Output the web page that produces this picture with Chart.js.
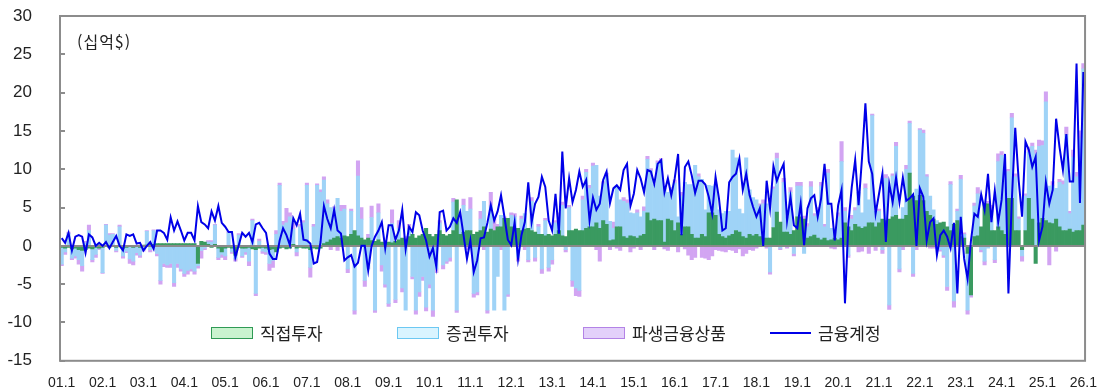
<!DOCTYPE html>
<html lang="ko">
<head>
<meta charset="utf-8">
<title>금융계정 추이</title>
<script src="https://cdn.jsdelivr.net/npm/chart.js@4.4.1/dist/chart.umd.min.js"></script>
<style>
  html, body { margin: 0; padding: 0; background: #fff; }
  #wrap { position: relative; width: 1103px; height: 391px; font-family: "Noto Sans CJK KR", "Liberation Sans", sans-serif; color: #222; }
  #wrap canvas { position: absolute; left: 0; top: 0; }
  #unit { position: absolute; left: 77px; top: 29px; font-size: 16px; letter-spacing: 1px; }
  .legend-item { position: absolute; top: 321px; display: flex; align-items: center; font-size: 17px; line-height: 24px; }
  .swatch { width: 40px; height: 10px; border: 1px solid; margin-right: 7px; }
  .swatch-line { width: 41px; height: 2px; background: #0000e8; margin-right: 7px; }
</style>
</head>
<body>
<div id="wrap">
  <canvas id="faChart" width="1103" height="391"></canvas>
  <div id="unit">(십억$)</div>
  <div class="legend-item" style="left:211px"><span class="swatch" style="background:#c9f3cf;border-color:#2f9a55"></span>직접투자</div>
  <div class="legend-item" style="left:397px"><span class="swatch" style="background:#d9f4ff;border-color:#6cc8f2"></span>증권투자</div>
  <div class="legend-item" style="left:583px"><span class="swatch" style="background:#e3d0fa;border-color:#b383e6"></span>파생금융상품</div>
  <div class="legend-item" style="left:770px"><span class="swatch-line"></span>금융계정</div>
</div>
<script>
// monthly categories, 01.1 .. 26.1
const labels = [];
for (let yr = 2001; yr <= 2026; yr++) {
  for (let m = 1; m <= 12; m++) {
    if (yr === 2026 && m > 1) break;
    labels.push(String(yr % 100).padStart(2, '0') + '.' + m);
  }
}

// 직접투자 (one row per year)
const directInv = [
  -0.2,-0.3,-0.2,-0.4,-0.3,-0.5,-0.6,-0.5,-0.3,-0.4,-0.2,-0.3,
  -0.2,-0.1,-0.2,-0.1,-0.2,-0.1,-0.3,-0.2,-0.1,-0.2,-0.1,-0.2,
  0.1,0.1,0.2,0.2,0.3,0.3,0.3,0.3,0.3,0.3,0.3,0.3,
  0.3,0.3,0.3,0.3,-2.3,0.6,0.5,0.2,-0.2,0.2,-0.3,-0.8,
  -0.3,-0.2,-0.3,-1.2,-0.2,-0.3,-0.3,-0.2,-0.4,-0.5,-0.3,-0.2,
  -0.3,-0.5,-0.4,-0.8,-0.3,-0.2,-0.4,-0.3,0.2,-0.3,-0.2,-0.3,
  -0.3,-0.5,-0.3,-0.4,-0.3,0.3,0.5,0.8,1.0,1.2,1.0,1.3,
  1.2,1.5,2.0,1.3,1.0,0.8,1.0,0.7,0.6,0.8,0.5,0.4,
  0.5,0.4,0.6,0.8,1.0,0.9,1.2,1.5,1.0,1.3,1.5,2.3,
  1.5,1.2,1.5,2.0,1.5,1.3,1.5,2.0,6.0,1.5,1.8,2.0,
  2.0,1.5,1.8,2.0,2.5,1.8,2.2,2.0,2.5,2.5,3.6,3.6,
  2.5,2.0,2.3,2.0,2.2,2.3,2.0,1.8,1.5,1.5,1.3,1.5,
  1.3,1.5,2.0,1.3,1.2,2.0,2.0,2.2,2.0,2.0,2.3,2.5,
  2.5,3.0,2.3,3.3,2.8,0.7,0.8,2.5,2.5,1.2,1.0,1.3,
  1.2,1.0,1.3,1.5,4.3,3.3,3.5,3.3,3.3,0.5,3.5,3.3,
  2.0,3.0,1.5,2.5,2.5,1.5,1.0,1.0,1.5,1.2,4.3,4.3,
  4.0,1.5,1.2,1.0,1.3,1.5,2.0,1.8,1.2,1.0,1.5,1.3,
  1.5,1.2,1.0,1.0,1.0,2.4,4.4,3.1,1.8,1.8,1.5,2.0,
  3.8,3.8,3.5,1.0,1.2,1.4,1.0,0.8,1.0,0.7,0.8,1.0,
  0.8,1.0,3.0,2.5,2.0,2.8,2.5,2.3,2.5,3.0,3.0,2.5,
  3.0,3.5,3.3,3.5,3.8,4.0,3.5,3.5,4.0,9.5,6.5,5.9,
  6.6,5.9,4.5,4.0,3.5,2.8,3.0,3.1,2.5,2.0,2.8,3.3,
  1.2,1.0,-1.0,-6.4,1.2,1.3,2.5,5.5,5.5,2.0,2.0,2.5,
  2.0,1.5,6.2,6.2,2.0,2.0,-0.5,2.0,6.2,3.5,-2.3,3.0,
  3.6,3.3,3.0,2.9,3.5,2.5,2.0,2.0,2.2,1.8,2.0,2.0,
  2.7
];

// 증권투자
const portfolioInv = [
  -2.2,-0.5,1.6,-1.2,-1.0,-1.3,-2.0,0.4,2.0,-1.4,-0.9,0.3,
  -3.3,2.7,1.4,1.5,-0.4,2.5,-1.0,-0.5,-1.6,-1.8,-0.8,-1.0,
  -0.5,1.8,-0.5,1.8,-1.0,-4.5,-2.3,-2.5,-2.3,-4.8,-2.3,-3.0,
  -3.6,-3.2,-3.0,-3.3,-0.3,-0.6,-0.3,0.3,0.5,2.5,-1.2,-0.3,
  -1.0,1.7,-0.5,-0.5,1.4,-1.0,-0.5,-1.8,3.3,-5.7,0.6,-0.5,
  -0.5,-1.8,-1.5,1.5,7.9,2.7,3.0,3.8,2.0,-0.5,2.5,3.0,
  7.9,-2.3,2.5,7.9,7.0,8.3,5.0,4.2,3.8,5.0,3.5,3.5,
  -3.0,3.0,-8.4,7.8,2.5,-4.5,-3.0,3.0,-8.4,3.5,-2.5,-5.0,
  -7.5,2.5,-7.0,1.5,-5.5,-8.4,1.0,-4.0,-8.4,-6.0,-4.0,-8.0,
  -5.0,-8.4,-3.0,1.0,-2.5,-2.0,-1.5,3.7,-8.4,2.0,3.5,2.5,
  2.8,-6.2,-6.0,1.5,3.3,-8.4,3.0,-8.4,-4.0,1.5,-8.4,-6.3,
  1.5,1.8,-1.5,1.5,2.0,-1.8,3.8,-1.5,1.0,-3.0,2.0,-2.8,
  -1.8,1.5,1.8,4.0,-0.5,3.0,-4.5,-5.5,-5.8,4.0,7.3,5.0,
  7.9,7.5,4.2,4.8,6.3,2.5,1.5,5.3,3.5,4.6,4.6,3.0,
  3.0,3.3,2.5,3.0,7.0,6.5,4.5,7.5,7.8,7.0,3.5,4.0,
  6.2,0.8,5.0,5.8,5.5,6.5,9.5,8.0,7.2,3.5,3.6,3.5,
  4.0,3.2,3.0,3.5,3.2,11.0,9.5,3.0,3.0,10.5,5.8,5.0,
  4.5,4.0,4.5,4.5,-3.4,5.0,7.0,-0.3,6.5,2.0,5.5,-1.0,
  4.0,4.0,-1.0,1.5,6.5,2.5,3.5,7.0,1.5,8.8,1.5,0.8,
  3.0,10.0,1.5,-1.2,1.5,1.8,4.5,2.0,5.0,3.0,14.0,2.0,
  1.5,-0.5,5.5,-7.7,5.3,9.0,-3.0,1.5,6.0,6.5,-3.6,1.5,
  8.5,8.8,4.5,2.5,1.2,0.5,-0.5,-1.2,-5.3,6.0,-7.2,1.2,
  7.5,0.5,-7.4,0.0,4.0,5.5,-0.5,-2.0,-0.3,2.5,-1.8,8.5,
  9.8,8.0,3.5,10.5,7.0,1.5,-0.8,4.5,6.0,9.5,12.0,10.0,
  9.5,15.5,4.8,5.0,4.0,5.8,6.0,12.5,2.0,9.8,7.0,12.0,
  20.4
];

// 파생금융상품
const derivatives = [
  -0.2,-0.3,0.2,-0.2,-0.3,-0.6,-0.7,0.2,0.7,-0.3,-0.4,-0.2,
  -0.1,0.1,0.2,0.1,-0.2,0.2,-0.3,-0.2,-0.6,-0.5,-0.3,-0.3,
  -0.2,0.1,-0.3,0.1,-0.3,-0.5,-0.4,-0.3,-0.5,-0.5,-0.5,-0.3,
  -0.4,-0.5,-0.3,-0.4,-0.3,-1.0,-0.2,0.2,0.2,0.1,-0.3,-0.4,
  -0.5,0.2,-0.2,-0.3,0.2,-0.2,-0.3,-0.6,0.2,-0.3,0.3,-0.3,
  -0.3,-0.9,-0.9,0.5,0.3,0.5,1.9,0.5,0.7,-0.5,0.3,0.3,
  0.3,-1.3,0.3,0.2,0.3,0.4,0.5,-0.5,0.3,-0.6,0.8,0.5,
  -0.5,0.3,-0.5,2.0,1.5,-0.8,0.5,1.5,-0.3,1.2,-0.8,-0.4,
  -0.4,1.8,-0.4,1.0,-0.5,0.3,0.6,-0.3,-0.5,-0.6,-0.5,-0.5,
  -0.5,-0.8,-0.5,0.3,-0.5,-0.3,-0.5,0.5,-0.3,0.4,0.8,-0.5,
  1.5,-0.5,-0.4,1.0,-0.5,-0.4,1.8,1.5,0.3,-0.5,0.2,-0.3,
  0.3,0.4,-0.5,0.4,-0.5,-0.3,0.5,-0.5,0.3,-0.6,0.3,-0.5,
  -0.6,0.3,0.5,0.4,-0.3,0.3,-0.8,-1.0,-0.8,0.5,0.4,0.4,
  0.4,-0.5,-2.0,0.3,0.4,-0.5,0.8,-0.3,-0.6,0.5,0.4,-0.8,
  -0.3,0.4,-0.5,0.6,0.4,0.3,-0.5,0.3,0.3,-0.4,-0.6,0.3,
  0.4,-0.8,0.5,-0.4,-1.2,-1.8,-1.5,0.4,-1.5,-1.6,-1.8,-1.3,
  -0.5,-0.6,-0.7,-0.8,-0.5,-0.6,-0.9,-0.4,-1.3,-1.0,-0.5,-0.6,
  -0.3,0.3,0.5,-0.3,-0.3,0.3,0.7,-0.2,0.5,-0.3,0.6,-0.3,
  0.5,0.5,0.4,0.4,0.7,0.3,0.5,0.5,0.3,0.5,-0.3,-0.4,
  0.5,2.6,0.5,-0.3,0.5,0.4,-0.8,-0.7,0.6,-1.0,0.2,-0.6,
  0.3,-0.5,0.5,-0.6,0.3,0.5,-0.4,-0.5,0.5,0.3,-0.4,-0.5,
  0.2,0.4,0.3,-0.3,-0.3,-0.3,-0.2,-0.3,-0.5,0.4,-0.8,0.3,
  0.5,0.2,-0.5,-0.3,0.4,0.8,-0.3,-0.5,0.3,0.8,-0.4,1.0,
  0.5,0.4,0.3,0.6,0.4,0.3,-0.7,0.3,0.7,0.4,0.5,0.8,
  0.6,1.3,-2.5,0.5,-0.7,0.4,0.5,1.0,0.3,0.9,0.6,1.0,
  0.7
];

// 금융계정
const financialAcct = [
  1.0,0.4,1.7,-0.6,1.2,1.4,1.2,-0.9,1.5,1.1,0.0,0.4,
  0.0,0.5,-0.3,0.5,1.3,0.0,-0.6,1.5,1.3,1.5,0.3,0.4,
  -0.6,0.0,0.5,-0.4,2.0,2.0,1.7,0.8,3.7,2.0,3.2,2.0,
  0.7,1.7,1.7,0.7,5.2,3.1,2.8,2.3,4.5,3.3,5.2,3.0,
  2.5,1.8,1.8,-1.5,0.1,1.7,1.2,1.7,0.5,2.8,3.0,2.3,
  1.7,-1.0,-1.7,-1.7,0.7,2.3,1.4,0.1,3.6,2.7,4.2,0.8,
  0.7,0.3,-2.3,-2.1,0.5,5.2,3.5,2.3,4.7,2.0,1.6,-1.9,
  -1.5,-1.2,-2.7,-2.2,0.0,0.0,-3.2,0.0,1.2,2.0,3.1,-0.3,
  2.7,2.7,0.8,2.0,4.7,-0.4,2.5,1.8,4.4,4.0,2.0,0.7,
  -1.4,-0.3,-2.7,4.4,4.6,2.0,2.5,3.6,3.0,4.4,1.4,-1.7,
  0.7,-3.4,-1.9,1.0,1.1,3.0,5.3,3.3,4.5,6.6,3.8,0.8,
  0.1,3.1,-1.7,1.4,3.1,8.3,3.1,5.5,6.4,9.0,7.7,3.3,
  2.0,6.8,1.6,12.3,4.9,8.8,5.7,7.3,9.7,7.7,8.6,3.3,
  6.3,4.7,5.5,8.6,9.7,5.6,7.5,7.9,7.3,9.9,10.7,5.2,
  6.8,9.9,8.8,7.0,9.9,9.7,8.1,10.7,11.2,7.0,8.8,6.6,
  8.8,12.0,1.4,10.3,11.0,9.2,6.9,8.5,8.5,8.0,6.4,4.2,
  9.0,6.2,2.0,2.3,8.3,9.0,9.4,11.4,7.3,9.4,6.6,5.1,
  3.8,4.9,0.0,8.5,4.9,10.4,8.5,9.7,10.7,3.3,6.4,2.7,
  2.3,5.5,0.1,4.9,6.2,6.6,3.8,6.2,10.7,5.5,5.5,0.7,
  5.3,7.3,-7.5,2.9,7.7,11.2,5.3,11.4,18.6,11.0,9.4,4.2,
  6.8,9.4,0.5,8.1,5.7,8.9,5.7,8.9,5.9,6.2,6.7,0.0,
  7.5,6.4,0.7,3.1,3.6,-1.2,1.4,2.0,1.2,-0.3,3.0,-6.2,
  3.8,-1.7,-4.3,0.7,4.2,3.8,6.7,4.7,9.4,3.1,7.2,3.1,
  6.0,12.0,-6.2,6.0,15.4,8.6,3.8,13.6,12.5,10.3,11.6,0.7,
  2.5,8.3,5.5,7.3,16.6,12.9,9.9,14.6,8.4,8.4,23.8,5.6,
  22.7
];

const yTicks = [-15, -10, -5, 0, 5, 10, 15, 20, 25, 30];

// zero line under the 금융계정 line, plot frame and inward y tick marks
const framePlugin = {
  id: 'frame',
  beforeDatasetDraw(chart, args) {
    if (args.meta.type !== 'line') return;
    const { ctx, chartArea: a, scales: { y } } = chart;
    const y0 = Math.round(y.getPixelForValue(0));
    ctx.save();
    ctx.strokeStyle = '#8a8a8a';
    ctx.lineWidth = 2;
    ctx.beginPath();
    ctx.moveTo(a.left, y0);
    ctx.lineTo(a.right, y0);
    ctx.stroke();
    ctx.restore();
  },
  afterDraw(chart) {
    const { ctx, chartArea: a, scales: { y } } = chart;
    ctx.save();
    ctx.strokeStyle = '#8c8c8c';
    ctx.lineWidth = 2;
    ctx.strokeRect(a.left, a.top, a.right - a.left, a.bottom - a.top);
    ctx.beginPath();
    yTicks.forEach(v => {
      const py = Math.round(y.getPixelForValue(v));
      ctx.moveTo(a.left, py);
      ctx.lineTo(a.left + 5, py);
    });
    ctx.stroke();
    ctx.restore();
  }
};

const barCommon = {
  type: 'bar',
  stack: 'bars',
  order: 1,
  barPercentage: 1,
  categoryPercentage: 1,
  borderWidth: 0
};

new Chart(document.getElementById('faChart'), {
  data: {
    labels: labels,
    datasets: [
      {
        type: 'line',
        label: '금융계정',
        data: financialAcct,
        stack: 'line',
        order: 0,
        borderColor: '#0000e8',
        borderWidth: 2,
        pointRadius: 0,
        tension: 0,
        fill: false
      },
      Object.assign({ label: '직접투자', data: directInv, backgroundColor: '#3a9a60' }, barCommon),
      Object.assign({ label: '증권투자', data: portfolioInv, backgroundColor: '#9fd3f7' }, barCommon),
      Object.assign({ label: '파생금융상품', data: derivatives, backgroundColor: '#d2a4f2' }, barCommon)
    ]
  },
  options: {
    responsive: false,
    animation: false,
    events: [],
    layout: { padding: { left: 2, right: 16, top: 0, bottom: 0 } },
    plugins: {
      legend: { display: false },
      tooltip: { enabled: false }
    },
    scales: {
      x: {
        stacked: true,
        offset: true,
        grid: { display: false },
        border: { display: false },
        ticks: {
          autoSkip: false,
          maxRotation: 0,
          minRotation: 0,
          padding: 6,
          color: '#222',
          font: { family: '"Liberation Sans", Arial, sans-serif', size: 14 },
          callback: function(val, idx) {
            const lab = labels[idx];
            return lab.endsWith('.1') ? lab : '';
          }
        },
        afterFit: s => { s.height = 27; }
      },
      y: {
        stacked: true,
        min: -15,
        max: 30,
        grid: { display: false },
        border: { display: false },
        ticks: {
          stepSize: 5,
          padding: 20,
          color: '#222',
          font: { family: '"Liberation Sans", Arial, sans-serif', size: 17 }
        },
        afterFit: s => {
          s.width = 58;
          s.paddingTop = 16;
        }
      }
    }
  },
  plugins: [framePlugin]
});
</script>
</body>
</html>
